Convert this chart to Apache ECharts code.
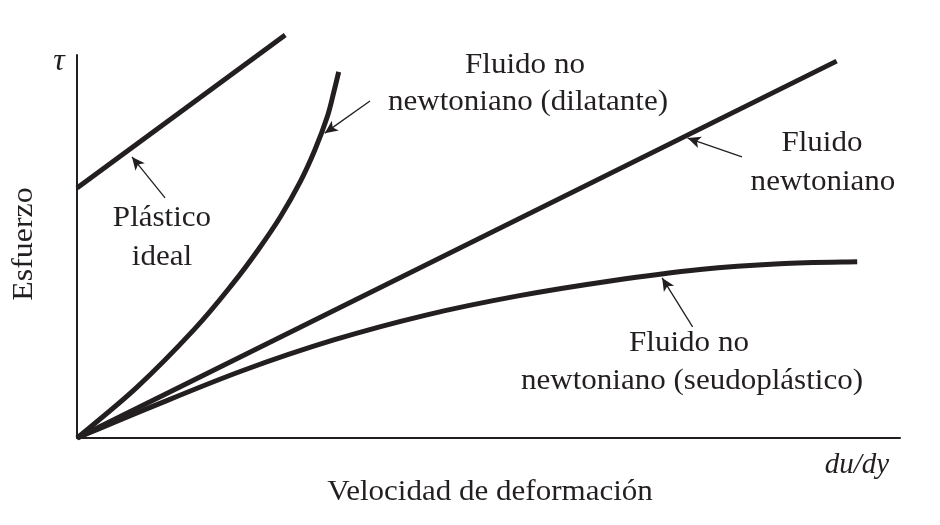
<!DOCTYPE html>
<html><head><meta charset="utf-8">
<script src="https://cdn.jsdelivr.net/npm/echarts@6/dist/echarts.min.js"></script>
<style>html,body{margin:0;padding:0;background:#fff}#c{width:940px;height:525px}</style>
</head><body><div id="c"></div>
<script>
// Data (axis units: x 0..10, y 0..10, no numeric ticks in the original)
const plasticoIdeal = [[0, 6.53], [2.53, 10.52]];
const dilatante = [[0, 0], [0.72, 1.31], [1.43, 2.85], [1.90, 4.05], [2.20, 4.91], [2.47, 5.77], [2.71, 6.68], [2.89, 7.52], [3.04, 8.38], [3.12, 9.03], [3.18, 9.56]];
const newtoniano = [[0, 0], [9.23, 9.84]];
const seudoplastico = [[0, 0], [0.89, 0.80], [2.0, 1.75], [3.12, 2.56], [4.24, 3.21], [5.36, 3.71], [6.48, 4.10], [7.57, 4.40], [8.54, 4.55], [9.48, 4.60]];
// annotation arrows: [tail, tip]
const arrowCoords = [
  [[1.07, 6.27], [0.668, 7.34]],
  [[3.56, 8.80], [3.01, 7.96]],
  [[8.08, 7.34], [7.42, 7.83]],
  [[7.48, 2.90], [7.11, 4.18]]
];
const labelTexts = ['Fluido no', 'newtoniano (dilatante)', 'Fluido', 'newtoniano', 'Plástico', 'ideal', 'Fluido no', 'newtoniano (seudoplástico)'];
const xAxisName = 'Velocidad de deformación';
const yAxisName = 'Esfuerzo';
const xSymbol = 'du/dy';
const ySymbol = 'τ';

const INK = '#231f20';
const FONT = '"Liberation Serif", "DejaVu Serif", serif';
const chart = echarts.init(document.getElementById('c'), null, {renderer: 'canvas'});

const labelPos = [[525, 65], [528, 102], [822, 143], [823, 182], [162, 218], [162, 257], [689, 343], [692, 381]];
function txt(t, x, y, opts) {
  opts = opts || {};
  return {
    type: 'text', x: x, y: y, rotation: opts.rotation || 0, scaleX: opts.scaleX || 1.07, silent: true,
    style: {text: t, fill: INK, font: (opts.italic ? 'italic ' : '') + (opts.size || 29) + 'px ' + FONT, textAlign: 'center', textVerticalAlign: 'middle'}
  };
}
const graphics = labelTexts.map((t, i) => txt(t, labelPos[i][0], labelPos[i][1]));
graphics.push(txt(xAxisName, 490, 492));
graphics.push(txt(yAxisName, 24, 244, {rotation: Math.PI / 2, scaleX: 1.1}));
graphics.push(txt(xSymbol, 857, 465, {italic: true, scaleX: 1.0}));
graphics.push(txt(ySymbol, 59, 62, {italic: true, size: 32, scaleX: 1.0}));

const curveStyle = {color: INK, width: 5, cap: 'butt', join: 'round'};
function straight(name, data) {
  return {
    name: name, type: 'line', data: data, showSymbol: false, symbol: 'none', clip: false,
    lineStyle: curveStyle, silent: true, animation: false
  };
}
// smooth curve through the data points (Catmull-Rom → cubic Bézier), positioned via the axes
function smoothCurve(name, data) {
  return {
    name: name, type: 'custom', coordinateSystem: 'cartesian2d', data: data, clip: false,
    silent: true, animation: false,
    renderItem: function (params, api) {
      if (params.dataIndex !== 0) return null;
      const p = data.map(d => api.coord(d));
      let d = 'M' + p[0][0] + ' ' + p[0][1];
      for (let i = 0; i < p.length - 1; i++) {
        const p0 = p[Math.max(i - 1, 0)], p1 = p[i], p2 = p[i + 1], p3 = p[Math.min(i + 2, p.length - 1)];
        const c1 = [p1[0] + (p2[0] - p0[0]) / 6, p1[1] + (p2[1] - p0[1]) / 6];
        const c2 = [p2[0] - (p3[0] - p1[0]) / 6, p2[1] - (p3[1] - p1[1]) / 6];
        d += ' C' + c1[0] + ' ' + c1[1] + ' ' + c2[0] + ' ' + c2[1] + ' ' + p2[0] + ' ' + p2[1];
      }
      return {
        type: 'path', shape: {pathData: d},
        style: {fill: null, stroke: INK, lineWidth: 5, lineCap: 'butt', lineJoin: 'round'}
      };
    }
  };
}

const series = [
  straight('Plástico ideal', plasticoIdeal),
  smoothCurve('Fluido no newtoniano (dilatante)', dilatante),
  straight('Fluido newtoniano', newtoniano),
  smoothCurve('Fluido no newtoniano (seudoplástico)', seudoplastico)
];
series.push({
  type: 'line', data: [], silent: true, animation: false,
  markLine: {
    silent: true, animation: false,
    symbol: ['none', 'arrow'], symbolSize: [9, 13],
    label: {show: false},
    lineStyle: {type: 'solid', width: 1.3, color: INK},
    emphasis: {disabled: true},
    data: arrowCoords.map(a => [{coord: a[0]}, {coord: a[1]}])
  }
});

chart.setOption({
  animation: false,
  backgroundColor: '#fff',
  grid: {left: 77, right: 40, top: 55, bottom: 87, containLabel: false},
  xAxis: {
    type: 'value', min: 0, max: 10,
    axisLine: {show: true, onZero: false, lineStyle: {color: INK, width: 2}},
    axisTick: {show: false}, axisLabel: {show: false}, splitLine: {show: false}
  },
  yAxis: {
    type: 'value', min: 0, max: 10,
    axisLine: {show: true, onZero: false, lineStyle: {color: INK, width: 2}},
    axisTick: {show: false}, axisLabel: {show: false}, splitLine: {show: false}
  },
  series: series,
  graphic: graphics
});
</script></body></html>
